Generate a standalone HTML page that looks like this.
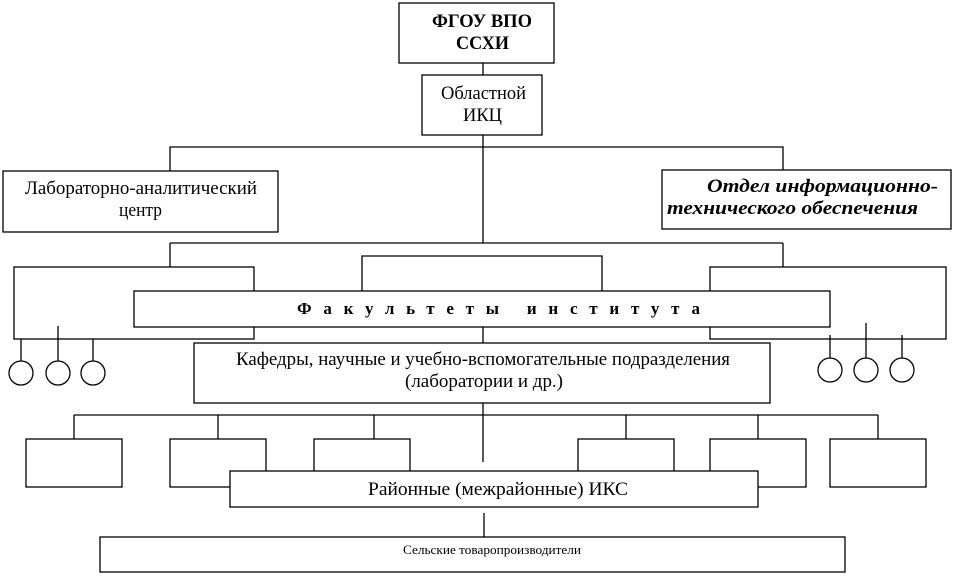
<!DOCTYPE html>
<html><head><meta charset="utf-8"><style>
html,body{margin:0;padding:0;background:#fff;}
svg{display:block;}
text{font-family:"Liberation Serif","Noto Serif CJK SC",serif;fill:#000;}
</style></head><body>
<svg width="954" height="576" viewBox="0 0 954 576" xmlns="http://www.w3.org/2000/svg">
<g stroke="#000" stroke-width="1.3" fill="none">
<line x1="483" y1="63" x2="483" y2="75"/>
<line x1="483" y1="135" x2="483" y2="243"/>
<polyline points="170,171 170,147 783,147 783,170"/>
<line x1="170" y1="243" x2="783" y2="243"/>
<line x1="170" y1="243" x2="170" y2="267"/>
<rect x="14" y="267" width="240" height="72" fill="#fff"/>
<line x1="58" y1="326" x2="58" y2="361"/>
<line x1="21" y1="339" x2="21" y2="361"/>
<line x1="93" y1="339" x2="93" y2="361"/>
<circle cx="21" cy="373" r="12" fill="#fff"/>
<circle cx="58" cy="373" r="12" fill="#fff"/>
<circle cx="93" cy="373" r="12" fill="#fff"/>
<polyline points="362,291 362,256 602,256 602,291"/>
<line x1="783" y1="243" x2="783" y2="267"/>
<rect x="710" y="267" width="236" height="72" fill="#fff"/>
<line x1="866" y1="323" x2="866" y2="358"/>
<line x1="830" y1="335" x2="830" y2="358"/>
<line x1="902" y1="335" x2="902" y2="358"/>
<circle cx="830" cy="370" r="12" fill="#fff"/>
<circle cx="866" cy="370" r="12" fill="#fff"/>
<circle cx="902" cy="370" r="12" fill="#fff"/>
<rect x="134" y="291" width="696" height="36" fill="#fff"/>
<line x1="483" y1="327" x2="483" y2="343"/>
<rect x="194" y="343" width="576" height="60" fill="#fff"/>
<line x1="483" y1="403" x2="483" y2="462"/>
<line x1="74" y1="415" x2="878" y2="415"/>
<line x1="74" y1="415" x2="74" y2="439"/>
<line x1="218" y1="415" x2="218" y2="439"/>
<line x1="374" y1="415" x2="374" y2="439"/>
<line x1="626" y1="415" x2="626" y2="439"/>
<line x1="758" y1="415" x2="758" y2="439"/>
<line x1="878" y1="415" x2="878" y2="439"/>
<rect x="26" y="439" width="96" height="48" fill="#fff"/>
<rect x="170" y="439" width="96" height="48" fill="#fff"/>
<rect x="314" y="439" width="96" height="48" fill="#fff"/>
<rect x="578" y="439" width="96" height="48" fill="#fff"/>
<rect x="710" y="439" width="96" height="48" fill="#fff"/>
<rect x="830" y="439" width="96" height="48" fill="#fff"/>
<rect x="230" y="471" width="528" height="36" fill="#fff"/>
<line x1="484" y1="513" x2="484" y2="537"/>
<rect x="100" y="537" width="745" height="35" fill="#fff"/>
<rect x="399" y="3" width="155" height="60" fill="#fff"/>
<rect x="422" y="75" width="120" height="60" fill="#fff"/>
<rect x="3" y="171" width="275" height="61" fill="#fff"/>
<rect x="662" y="170" width="289" height="59" fill="#fff"/>
</g>
<g font-size="19" lengthAdjust="spacingAndGlyphs">
<text x="432" y="27" font-weight="bold" textLength="100" lengthAdjust="spacingAndGlyphs">ФГОУ ВПО</text>
<text x="456" y="49" font-weight="bold" textLength="53" lengthAdjust="spacingAndGlyphs">ССХИ</text>
<text x="441" y="99" textLength="85" lengthAdjust="spacingAndGlyphs">Областной</text>
<text x="463" y="121" textLength="39" lengthAdjust="spacingAndGlyphs">ИКЦ</text>
<text x="25" y="194" textLength="232" lengthAdjust="spacingAndGlyphs">Лабораторно-аналитический</text>
<text x="119" y="216" textLength="43" lengthAdjust="spacingAndGlyphs">центр</text>
<text x="707" y="192" font-style="italic" font-weight="bold" textLength="231" lengthAdjust="spacingAndGlyphs">Отдел информационно-</text>
<text x="667" y="214" font-style="italic" font-weight="bold" textLength="251" lengthAdjust="spacingAndGlyphs">технического обеспечения</text>
<text x="297" y="314" font-size="17" font-weight="bold" textLength="403" lengthAdjust="spacing">Факультеты  института</text>
<text x="236" y="365" textLength="494" lengthAdjust="spacingAndGlyphs">Кафедры, научные и учебно-вспомогательные подразделения</text>
<text x="405" y="387" textLength="158" lengthAdjust="spacingAndGlyphs">(лаборатории и др.)</text>
<text x="368" y="495" textLength="260" lengthAdjust="spacingAndGlyphs">Районные (межрайонные) ИКС</text>
<text x="403" y="554" font-size="13" textLength="178" lengthAdjust="spacingAndGlyphs">Сельские товаропроизводители</text>
</g>
</svg>
</body></html>
